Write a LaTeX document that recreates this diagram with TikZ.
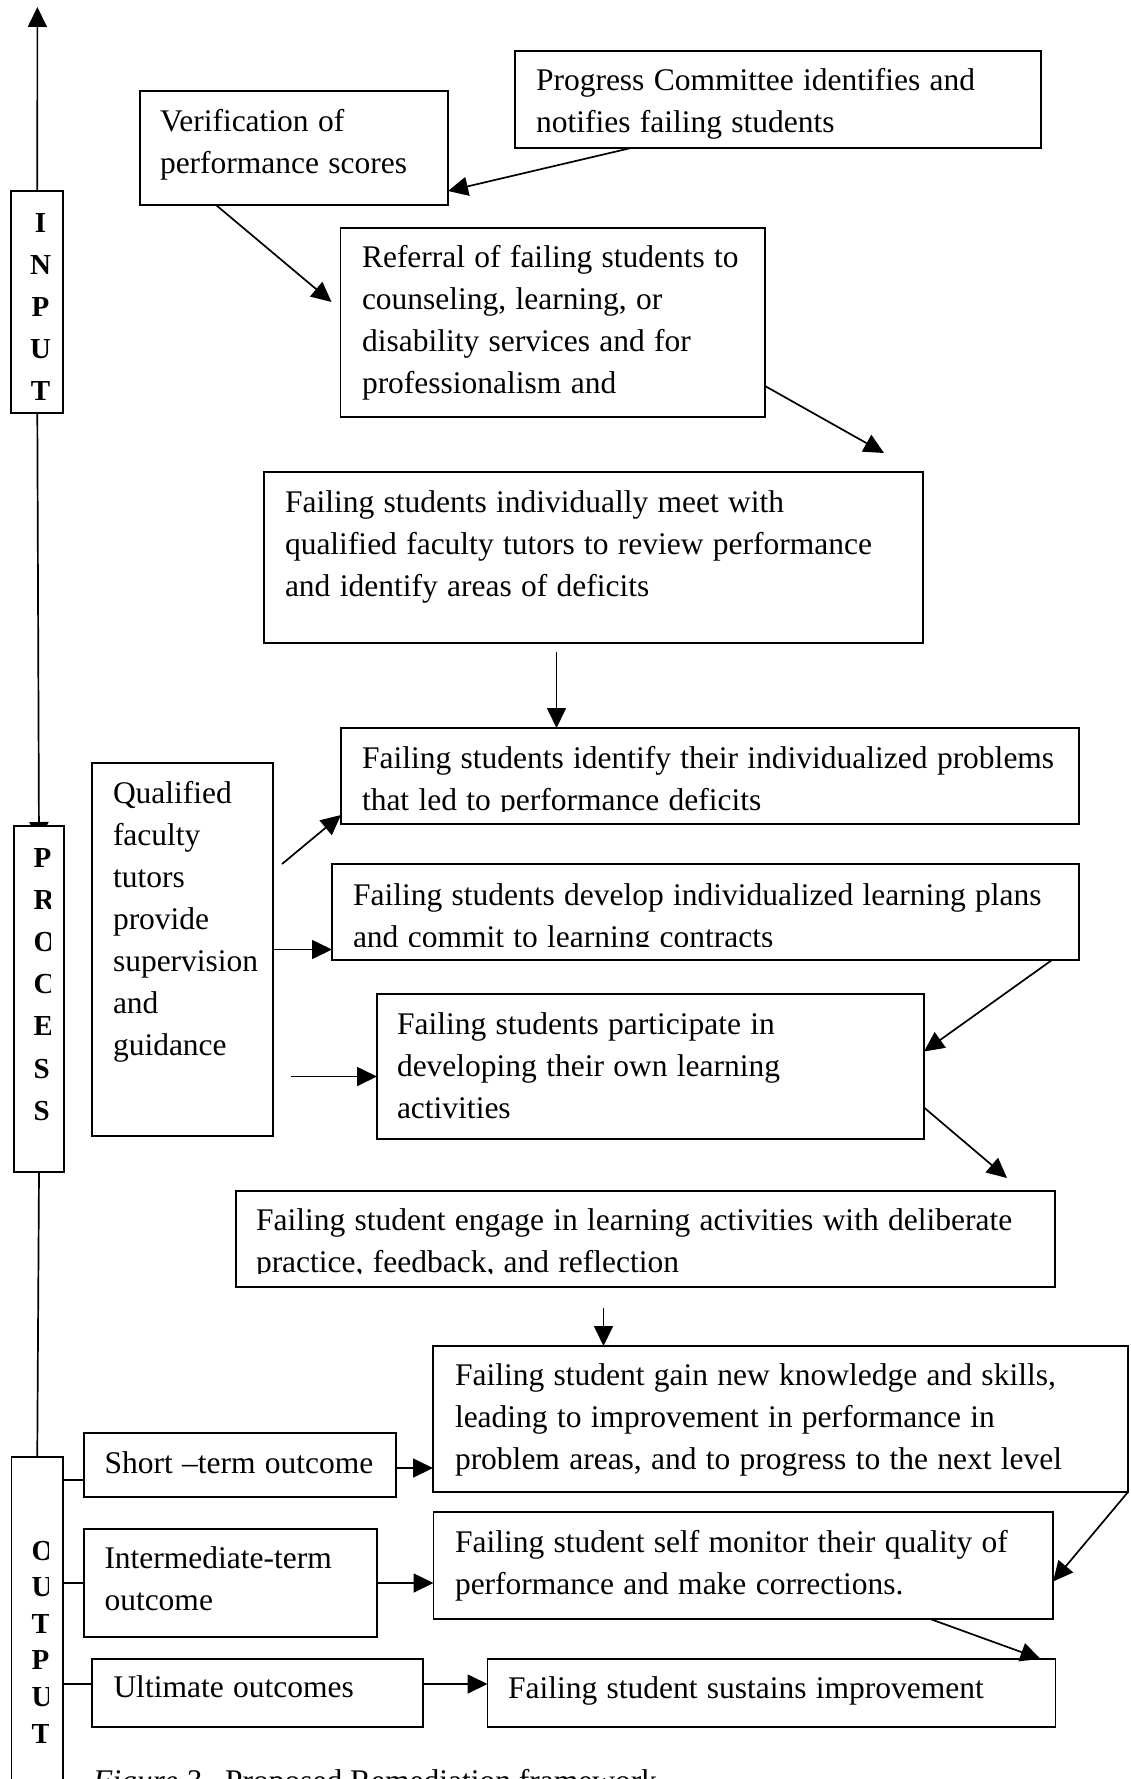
\documentclass[tikz,border=0pt]{standalone}
\usepackage{fontspec}
\setmainfont{Liberation Serif}
\usetikzlibrary{arrows.meta}
\usetikzlibrary{backgrounds}

\begin{document}
\begin{tikzpicture}[x=1pt, y=-1pt,
    box/.style={draw, line width=1.7pt, fill=white, anchor=north west, align=left,
      inner ysep=0pt, outer sep=0pt, font=\fontsize{31.5}{42}\selectfont,
      execute at begin node={\hyphenpenalty=10000 \spaceskip=9.3pt minus 2pt}},
    bar/.style={draw, line width=1.7pt, fill=white, anchor=north west, inner sep=0pt, outer sep=0pt},
    letter/.style={anchor=base, inner sep=0pt, font=\fontsize{29}{29}\selectfont\bfseries},
    flow/.style={line width=1.7pt, -{Triangle[length=20pt, width=19pt]}},
    link/.style={line width=1.7pt}]
  \useasboundingbox (0,0) rectangle (1130,1779);

  % side bars
  \node[bar, minimum width=52pt, minimum height=222pt] (inputbar) at (11.3,191) {};
  \node[bar, minimum width=50pt, minimum height=346pt] (processbar) at (14,826) {};
  \node[bar, minimum width=51.5pt, minimum height=360pt] (outputbar) at (11.5,1457) {};

  \foreach \ch [count=\i] in {I,N,P,U,T}
    \node[letter] (in\i) at (40.5, {233+41.8*(\i-1)}) {\ch};
  \begin{scope}
    \clip (14,826) rectangle (50,1172);
    \foreach \ch [count=\i] in {P,R,O,C,E,S,S}
      \node[letter, anchor=base west] (pr\i) at (33.5, {867+42.2*(\i-1)}) {\ch};
  \end{scope}
  \begin{scope}
    \clip (11.5,1457) rectangle (48.5,1779);
    \foreach \ch [count=\i] in {O,U,T,P,U,T}
      \node[letter, anchor=base west] (out\i) at (31.5, {1560+36.6*(\i-1)}) {\ch};
  \end{scope}

  % input
  \node[box, text width=484pt, inner xsep=21pt, text height=40pt, text depth=57pt] (progress) at (515,51)
    {Progress Committee identifies and\\notifies failing students};
  \node[box, text width=268pt, inner xsep=20pt, text height=41pt, text depth=73pt] (verif) at (140,91)
    {Verification of\\performance scores};
  \node[box, text width=381.5pt, inner xsep=21.5pt, text height=39pt, text depth=150pt] (referral) at (340.5,228)
    {Referral of failing students to\\counseling, learning, or\\disability services and for\\professionalism and};

  % process
  \node[box, text width=617pt, inner xsep=21pt, text height=40pt, text depth=131pt] (meet) at (264,472)
    {Failing students individually meet with\\qualified faculty tutors to review performance\\and identify areas of deficits};
  \node[box, text width=696pt, inner xsep=21pt, text height=40pt, text depth=56pt] (identify) at (341,728)
    {Failing students identify their individualized problems\\that led to performance deficits};
  \node[box, text width=139pt, inner xsep=21pt, text height=40pt, text depth=333pt] (qualified) at (92,763)
    {Qualified\\faculty\\tutors\\provide\\supervision\\and\\guidance};
  \node[box, text width=705pt, inner xsep=21pt, text height=41pt, text depth=55pt] (develop) at (332,864)
    {Failing students develop individualized learning plans\\and commit to learning contracts};
  \node[box, text width=507pt, inner xsep=20pt, text height=40pt, text depth=105pt] (participate) at (377,994)
    {Failing students participate in\\developing their own learning\\activities};
  \node[box, text width=779pt, inner xsep=20pt, text height=39pt, text depth=57pt] (engage) at (236,1191)
    {Failing student engage in learning activities with deliberate\\practice, feedback, and reflection};

  % text frames cut the last line
  \foreach \n/\h in {identify/12, develop/13, engage/13}
    \fill[white] ([shift={(1pt,1pt)}]\n.south west) rectangle ([shift={(-1pt,\h pt)}]\n.south east);

  % output
  \node[box, text width=651pt, inner xsep=22pt, text height=39pt, text depth=107pt] (gain) at (433,1346)
    {Failing student gain new knowledge and skills,\\leading to improvement in performance in\\problem areas, and to progress to the next level};
  \node[box, text width=271pt, inner xsep=20.5pt, text height=40pt, text depth=24pt] (short) at (84,1433)
    {Short –term outcome};
  \node[box, text width=252pt, inner xsep=20.5pt, text height=39pt, text depth=69pt] (intermediate) at (84,1529)
    {Intermediate-term\\outcome};
  \node[box, text width=576.5pt, inner xsep=21.5pt, text height=40pt, text depth=67pt] (selfmon) at (433.5,1512)
    {Failing student self monitor their quality of\\performance and make corrections.};
  \node[box, text width=288pt, inner xsep=21.5pt, text height=38pt, text depth=30pt] (ultimate) at (92,1659)
    {Ultimate outcomes};
  \node[box, text width=527pt, inner xsep=20.5pt, text height=39pt, text depth=29pt] (sustain) at (487.5,1659)
    {Failing student sustains improvement};

  \node[anchor=base west, inner sep=0pt, font=\fontsize{31.5}{42}\selectfont] (caption) at (93,1791)
    {\textit{Figure 3.}~~Proposed Remediation framework};

  % spine
  \coordinate (spinetop) at (37.4,7);
  \draw[flow] (inputbar.north) -- (spinetop);
  \begin{pgfonlayer}{background}
    \draw[flow] (inputbar.south) -- ([yshift=-16pt]processbar.north);
  \end{pgfonlayer}
  \draw[link] (processbar.south) -- (outputbar.north);

  % connectors
  \draw[flow] ([xshift=116pt]progress.south west) -- ([yshift=14pt]verif.south east);
  \draw[flow] ([xshift=76pt]verif.south west) -- ([xshift=-9pt,yshift=-74pt]referral.north west);
  \draw[flow] ([yshift=31pt]referral.south east) -- ([xshift=-39pt,yshift=19pt]meet.north east);
  \draw[flow] ([xshift=-37pt,yshift=-9pt]meet.south) -- ([xshift=-37pt]meet.south |- identify.north);
  \draw[flow] ([xshift=9pt,yshift=-101pt]qualified.north east) -- ([yshift=9pt]identify.south west);
  \draw[flow] (qualified.east) -- (qualified.east -| develop.west);
  \draw[flow] ([xshift=-86pt,yshift=-10pt]participate.west) -- ([yshift=-10pt]participate.west);
  \draw[flow] ([xshift=-27pt]develop.south east) -- ([yshift=15pt]participate.east);
  \draw[flow] ([yshift=-41pt]participate.east) -- ([xshift=-48pt,yshift=13pt]engage.north east);
  \draw[flow] ([xshift=-42pt,yshift=-21pt]engage.south) -- ([xshift=-42pt]engage.south |- gain.north);
  \draw[flow] ([yshift=-3pt]short.east) -- ([yshift=-3pt]short.east -| gain.west);
  \draw[flow] (gain.south east) -- ([yshift=-16pt]selfmon.east);
  \draw[flow] (intermediate.east) -- (intermediate.east -| selfmon.west);
  \draw[flow] ([xshift=187pt]selfmon.south) -- ([xshift=-15pt]sustain.north east);
  \draw[flow] ([yshift=9pt]ultimate.east) -- ([yshift=9pt]ultimate.east -| sustain.west);

  \draw[link] ([yshift=-15pt]short.west -| outputbar.east) -- ([yshift=-15pt]short.west);
  \draw[link] (intermediate.west -| outputbar.east) -- (intermediate.west);
  \draw[link] ([yshift=9pt]ultimate.west -| outputbar.east) -- ([yshift=9pt]ultimate.west);
\end{tikzpicture}
\end{document}
